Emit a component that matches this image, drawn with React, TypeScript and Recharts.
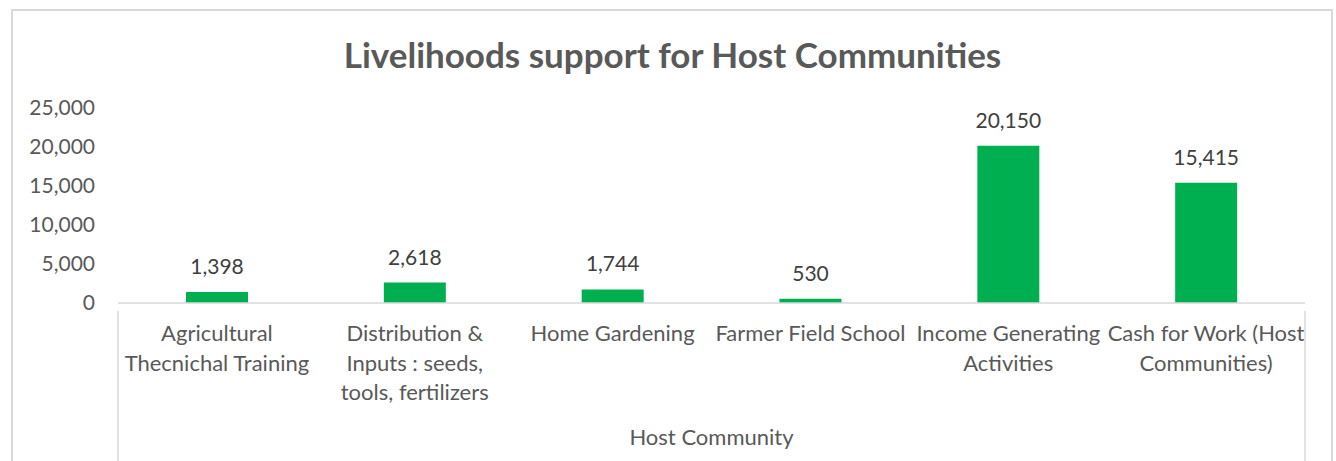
import { BarChart, Bar, XAxis, YAxis, LabelList } from 'recharts';

// category labels, line breaks as shown under the axis
const categories = [
  'Agricultural\nThecnichal Training',
  'Distribution &\nInputs : seeds,\ntools, fertilizers',
  'Home Gardening',
  'Farmer Field School',
  'Income Generating\nActivities',
  'Cash for Work (Host\nCommunities)',
];
const values = [1398, 2618, 1744, 530, 20150, 15415];
const yTicks = [0, 5000, 10000, 15000, 20000, 25000];
const groupLabel = 'Host Community';
const title = 'Livelihoods support for Host Communities';

const W = 1336;
const H = 461;
const FONT = 'Lato, "Open Sans", sans-serif';
const GREY = '#595959';

const MARGIN = { top: 108, right: 31, left: 18, bottom: 0 };
const Y_WIDTH = 100;
const PLOT_LEFT = MARGIN.left + Y_WIDTH;
const PLOT_RIGHT = W - MARGIN.right;
const BAND = (PLOT_RIGHT - PLOT_LEFT) / categories.length;
const X_HEIGHT = H - 303;

const data = categories.map((c, i) => ({ name: c, value: values[i] }));

const fmt = (v: number) => v.toLocaleString('en-US');

const CategoryTick = (props: any) => {
  const { x, y, payload, index } = props;
  const lines = String(payload.value).split('\n');
  return (
    <g>
      {lines.map((ln, i) => (
        <text
          key={i}
          x={x}
          y={y + 30 + i * 29.5}
          textAnchor="middle"
          fill={GREY}
          fontSize={22}
          fontFamily={FONT}
        >
          {ln}
        </text>
      ))}
      {index === 0 && (
        <line x1={x - BAND / 2} x2={x - BAND / 2} y1={y} y2={y + 152} stroke="#D9D9D9" strokeWidth={1.5} />
      )}
      {index === categories.length - 1 && (
        <line x1={x + BAND / 2} x2={x + BAND / 2} y1={y} y2={y + 152} stroke="#D9D9D9" strokeWidth={1.5} />
      )}
    </g>
  );
};

export default function App() {
  return (
    <div style={{ position: 'fixed', left: 0, top: 0, width: W, height: H, background: '#fff', overflow: 'hidden' }}>
      <div
        style={{
          position: 'absolute', left: 11, top: 9, width: 1322, height: 470,
          border: '2px solid #D9D9D9', boxSizing: 'border-box',
        }}
      />
      <div
        style={{
          position: 'absolute', left: 12, width: 1321, top: 32, textAlign: 'center',
          fontFamily: FONT, fontWeight: 700, fontSize: 35, color: GREY, lineHeight: '44px',
        }}
      >
        {title}
      </div>
      <div style={{ position: 'absolute', left: 0, top: 0 }}>
        <BarChart width={W} height={H} data={data} margin={MARGIN} barSize={62}>
          <YAxis
            type="number"
            domain={[0, 25000]}
            ticks={yTicks}
            tickFormatter={fmt}
            axisLine={false}
            tickLine={false}
            tickSize={0}
            tickMargin={23}
            width={Y_WIDTH}
            tick={{ fontSize: 21, fill: GREY, fontFamily: FONT }}
          />
          <XAxis
            dataKey="name"
            axisLine={{ stroke: '#D9D9D9', strokeWidth: 1.5 }}
            tickLine={false}
            height={X_HEIGHT}
            interval={0}
            tick={<CategoryTick />}
            label={{ value: groupLabel, position: 'insideBottom', offset: 16, fill: GREY, fontSize: 22, fontFamily: FONT }}
          />
          <Bar dataKey="value" fill="#00B050" isAnimationActive={false}>
            <LabelList
              dataKey="value"
              position="top"
              offset={18}
              formatter={(v: any) => fmt(Number(v))}
              fill="#404040"
              fontSize={21}
              fontFamily={FONT}
            />
          </Bar>
        </BarChart>
      </div>
    </div>
  );
}
